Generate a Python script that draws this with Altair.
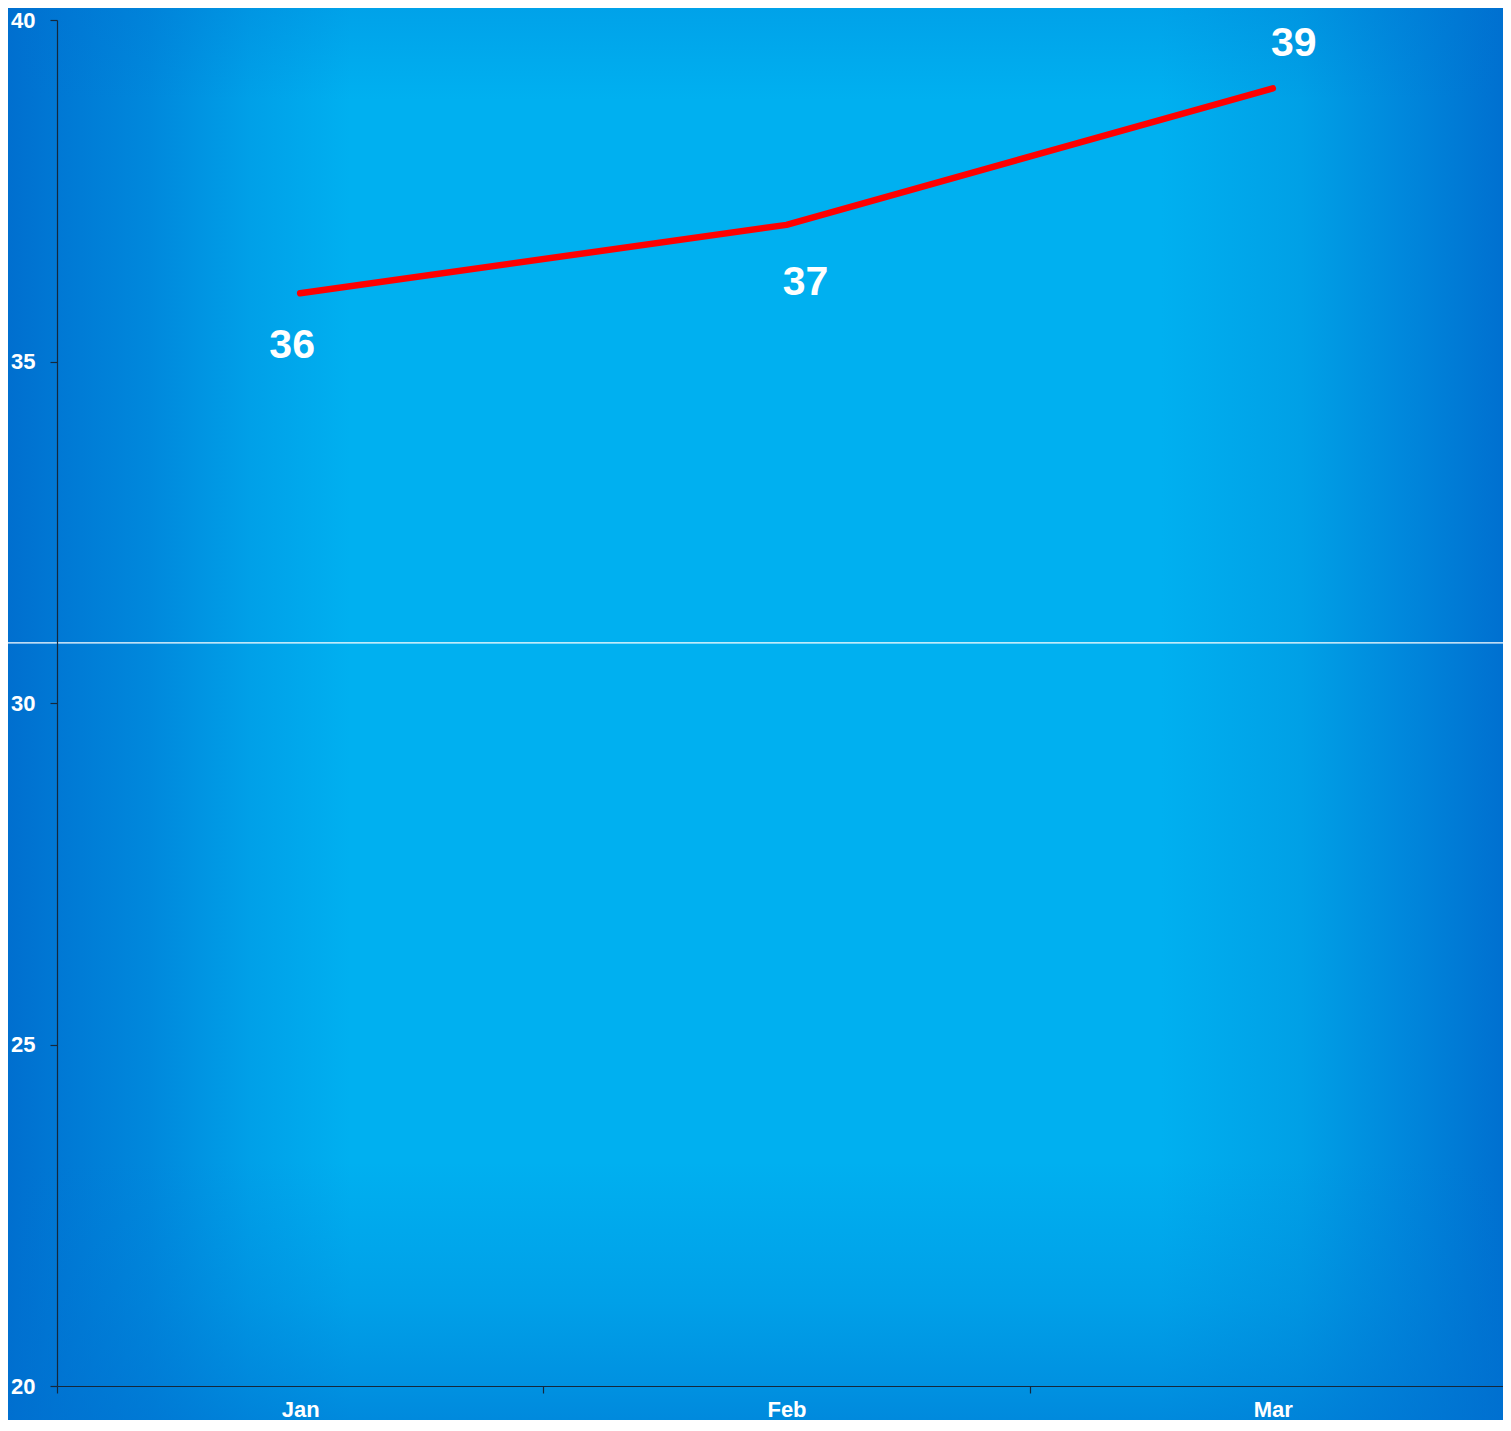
import altair as alt
import pandas as pd

months = ["Jan", "Feb", "Mar"]
values = [36, 37, 39]
y_ticks = [20, 25, 30, 35, 40]
seam_value = 30.88

W, H = 1446, 1366
PAD = {"left": 49, "top": 12, "right": 0, "bottom": 34}
FONT = "Liberation Sans"
AXIS_COLOR = "#14283c"

df = pd.DataFrame({"month": months, "value": values})
one = pd.DataFrame({"k": [0]})

h_grad = {
    "gradient": "linear", "x1": 0, "y1": 0, "x2": 1, "y2": 0,
    "stops": [
        {"offset": 0.0, "color": "#006fcf"},
        {"offset": 0.033, "color": "#0078d4"},
        {"offset": 0.095, "color": "#0088dc"},
        {"offset": 0.162, "color": "#00a0e8"},
        {"offset": 0.229, "color": "#00b0f0"},
        {"offset": 0.771, "color": "#00b0f0"},
        {"offset": 0.865, "color": "#00a0e6"},
        {"offset": 0.932, "color": "#0088dc"},
        {"offset": 1.0, "color": "#0070d0"},
    ],
}
v_grad = {
    "gradient": "linear", "x1": 0, "y1": 0, "x2": 0, "y2": 1,
    "stops": [
        {"offset": 0.0, "color": "rgba(0,112,208,0.22)"},
        {"offset": 0.065, "color": "rgba(0,112,208,0)"},
        {"offset": 0.817, "color": "rgba(0,112,208,0)"},
        {"offset": 0.916, "color": "rgba(0,112,208,0.25)"},
        {"offset": 0.98, "color": "rgba(0,112,208,0.5)"},
        {"offset": 1.0, "color": "rgba(0,112,208,0.6)"},
    ],
}

bg_x = alt.value(-PAD["left"])
bg_x2 = alt.value(W + PAD["right"])
bg_y = alt.value(-PAD["top"])
bg_y2 = alt.value(H + PAD["bottom"])

bg1 = alt.Chart(one).mark_rect(fill=h_grad, stroke=None).encode(x=bg_x, x2=bg_x2, y=bg_y, y2=bg_y2)
bg2 = alt.Chart(one).mark_rect(fill=v_grad, stroke=None).encode(x=bg_x, x2=bg_x2, y=bg_y, y2=bg_y2)

seam = alt.Chart(one).mark_rule(color="white", strokeWidth=1.3, opacity=1).encode(
    y=alt.datum(seam_value), x=bg_x, x2=bg_x2
)

x_enc = alt.X(
    "month:N", sort=months,
    scale=alt.Scale(type="band", paddingInner=0, paddingOuter=0, range=[0, 1459]),
    axis=alt.Axis(
        title=None, labelAngle=0, tickBand="extent", domainColor=AXIS_COLOR,
        tickColor=AXIS_COLOR, tickSize=7, labelColor="white", labelFont=FONT,
        labelFontSize=22, labelFontWeight="bold", labelPadding=6, labelBaseline="top",
        zindex=2, domainWidth=1.2, tickWidth=1.2,
    ),
)
y_enc = alt.Y(
    "value:Q",
    scale=alt.Scale(domain=[20, 40], nice=False, zero=False),
    axis=alt.Axis(
        title=None, values=y_ticks, format="d", grid=False, domainColor=AXIS_COLOR,
        tickColor=AXIS_COLOR, tickSize=7, labelColor="white", labelFont=FONT,
        labelFontSize=22, labelFontWeight="bold", labelPadding=15,
        zindex=2, domainWidth=1.2, tickWidth=1.2,
    ),
)

line = alt.Chart(df).mark_line(color="#ff0000", strokeWidth=6.5, strokeCap="round", strokeJoin="round").encode(
    x=x_enc, y=y_enc
)

label_offsets = {"Jan": (-8, 53), "Feb": (19, 58), "Mar": (21, -44)}
label_layers = []
for m in months:
    dx, dy = label_offsets[m]
    label_layers.append(
        alt.Chart(df).transform_filter(alt.datum.month == m).mark_text(
            font=FONT, fontSize=41, fontWeight="bold", color="white",
            align="center", baseline="middle", dx=dx, dy=dy,
        ).encode(x=alt.X("month:N", sort=months), y="value:Q", text=alt.Text("value:Q"))
    )

chart = alt.layer(bg1, bg2, seam, line, *label_layers).properties(
    width=W, height=H,
    autosize=alt.AutoSizeParams(type="none"),
    padding=PAD,
    background="#0090e0",
).configure_view(strokeWidth=0)

chart.save("out.html", embed_options={"renderer": "svg", "actions": False})
